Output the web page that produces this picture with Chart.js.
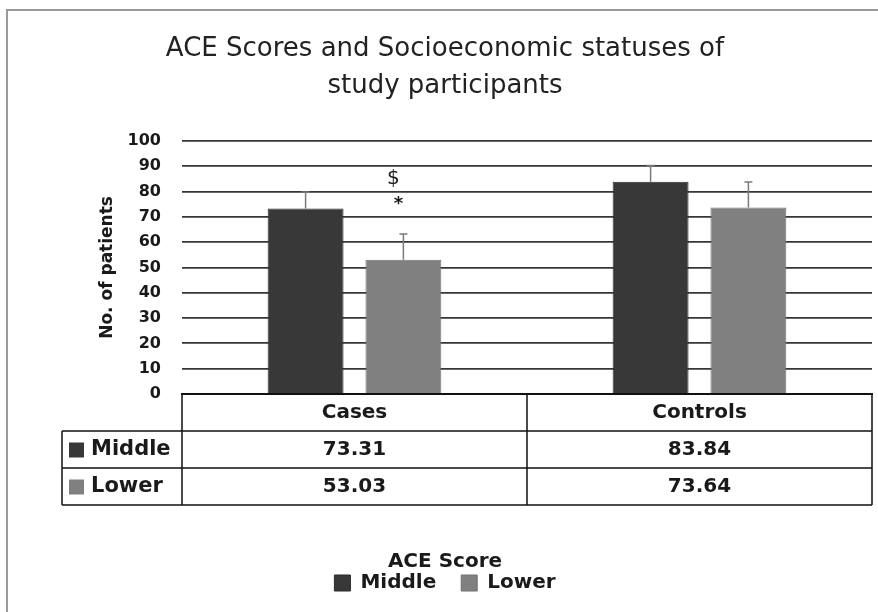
<!DOCTYPE html>
<html>
<head>
<meta charset="utf-8">
<title>ACE Scores and Socioeconomic statuses</title>
<script src="https://cdn.jsdelivr.net/npm/chart.js"></script>
<style>
  html, body { margin: 0; padding: 0; background: #fff; }
  #wrap { width: 878px; height: 612px; position: relative; }
</style>
</head>
<body>
<div id="wrap"><canvas id="aceChart"></canvas></div>

<script>
  // Données
  const categories = ['Cases', 'Controls'];
  const seriesNames = ['Middle', 'Lower'];
  const middleValues = [73.31, 83.84];
  const lowerValues = [53.03, 73.64];
  const middleErrors = [6.5, 6.4];
  const lowerErrors = [10.2, 10.1];
  const yTicks = [0, 10, 20, 30, 40, 50, 60, 70, 80, 90, 100];
  const marks = [{ series: 1, index: 0, text: '$', value: 85 }, { series: 1, index: 0, text: '*', value: 76 }];

  const colors = ['#383838', '#808080'];
  const textColor = '#1a1a1a';
  const fontMain = 'DejaVu Sans';

  // Cadre gris autour de la figure
  const framePlugin = {
    id: 'frame',
    beforeDraw(chart) {
      const ctx = chart.ctx;
      ctx.save();
      ctx.fillStyle = '#fff';
      ctx.fillRect(0, 0, chart.width, chart.height);
      ctx.strokeStyle = '#9a9a9a';
      ctx.lineWidth = 2;
      ctx.strokeRect(7, 10, chart.width + 20, chart.height + 20);
      ctx.restore();
    }
  };

  // Barres d'erreur (vers le haut) + annotations $ et *
  const errorBarPlugin = {
    id: 'errorBars',
    afterDatasetsDraw(chart) {
      const ctx = chart.ctx;
      const y = chart.scales.y;
      const errs = [middleErrors, lowerErrors];
      ctx.save();
      ctx.strokeStyle = '#7a7a7a';
      ctx.lineWidth = 1.5;
      chart.data.datasets.forEach((ds, i) => {
        const meta = chart.getDatasetMeta(i);
        meta.data.forEach((bar, j) => {
          const top = y.getPixelForValue(ds.data[j] + errs[i][j]);
          ctx.beginPath();
          ctx.moveTo(bar.x, bar.y);
          ctx.lineTo(bar.x, top);
          ctx.moveTo(bar.x - 4, top);
          ctx.lineTo(bar.x + 4, top);
          ctx.stroke();
        });
      });
      ctx.fillStyle = textColor;
      ctx.textAlign = 'center';
      ctx.textBaseline = 'middle';
      marks.forEach(m => {
        const bar = chart.getDatasetMeta(m.series).data[m.index];
        ctx.font = (m.text === '*' ? 'bold 18px ' : '20px ') + fontMain;
        ctx.fillText(m.text, bar.x - (m.text === '*' ? 5 : 10), y.getPixelForValue(m.value) + (m.text === '*' ? 3 : 0));
      });
      ctx.restore();
    }
  };

  // Tableau de données sous l'axe
  const tablePlugin = {
    id: 'dataTable',
    afterDraw(chart) {
      const ctx = chart.ctx;
      const area = chart.chartArea;
      const x = chart.scales.x;
      const rowH = 37;
      const top = area.bottom;
      const mid = (x.getPixelForValue(0) + x.getPixelForValue(1)) / 2;
      const labelLeft = 62;
      const rows = [middleValues, lowerValues];

      ctx.save();
      ctx.strokeStyle = '#111';
      ctx.lineWidth = 1.5;
      ctx.beginPath();
      [area.left, mid, area.right].forEach(px => {
        ctx.moveTo(px, top);
        ctx.lineTo(px, top + rowH * 3);
      });
      ctx.moveTo(labelLeft, top + rowH);
      ctx.lineTo(labelLeft, top + rowH * 3);
      for (let r = 1; r <= 3; r++) {
        ctx.moveTo(labelLeft, top + rowH * r);
        ctx.lineTo(area.right, top + rowH * r);
      }
      ctx.stroke();

      ctx.fillStyle = textColor;
      ctx.font = 'bold 20px ' + fontMain;
      ctx.textAlign = 'center';
      ctx.textBaseline = 'middle';
      categories.forEach((c, j) => {
        const cx = j === 0 ? (area.left + mid) / 2 : (mid + area.right) / 2;
        ctx.fillText(c, cx, top + rowH / 2);
        rows.forEach((vals, r) => {
          ctx.fillText(vals[j].toFixed(2), cx, top + rowH * (r + 1.5));
        });
      });

      ctx.textAlign = 'left';
      ctx.font = 'bold 21px ' + fontMain;
      seriesNames.forEach((name, r) => {
        const cy = top + rowH * (r + 1.5);
        ctx.fillStyle = colors[r];
        ctx.fillRect(69, cy - 7, 15, 15);
        ctx.fillStyle = textColor;
        ctx.fillText(name, 91, cy);
      });
      ctx.restore();
    }
  };

  const ctx = document.getElementById('aceChart').getContext('2d');
  new Chart(ctx, {
    type: 'bar',
    data: {
      labels: categories,
      datasets: [
        { label: seriesNames[0], data: middleValues, backgroundColor: colors[0], borderColor: '#2a2a2a', borderWidth: 1 },
        { label: seriesNames[1], data: lowerValues, backgroundColor: colors[1], borderColor: '#707070', borderWidth: 1 }
      ]
    },
    options: {
      responsive: true,
      maintainAspectRatio: false,
      animation: false,
      categoryPercentage: 0.567,
      barPercentage: 0.776,
      layout: { padding: { top: 31, left: 18, right: 6, bottom: 9 } },
      plugins: {
        tooltip: { enabled: false },
        title: {
          display: true,
          text: ['ACE Scores and Socioeconomic statuses of', 'study participants'],
          color: '#222',
          font: { family: fontMain, size: 26, weight: 'normal', lineHeight: 1.42 },
          padding: { top: 0, bottom: 36 }
        },
        legend: {
          position: 'bottom',
          title: {
            display: true,
            text: 'ACE Score',
            color: textColor,
            font: { family: fontMain, size: 20, weight: 'bold', lineHeight: 1 },
            padding: { top: 0, bottom: -24 }
          },
          labels: {
            color: textColor,
            font: { family: fontMain, size: 20, weight: 'bold' },
            boxWidth: 16,
            boxHeight: 16,
            padding: 25
          }
        }
      },
      scales: {
        x: {
          ticks: { display: false },
          grid: { display: false },
          border: { display: true, color: '#111', width: 2 },
          afterFit(scale) { scale.height = 158; }
        },
        y: {
          min: 0,
          max: 100,
          afterBuildTicks(scale) { scale.ticks = yTicks.map(v => ({ value: v })); },
          ticks: {
            color: textColor,
            font: { family: fontMain, size: 16, weight: 'bold' },
            padding: 21
          },
          grid: { color: '#363636', lineWidth: 1.8, drawTicks: false },
          border: { display: false },
          title: {
            display: true,
            text: 'No. of patients',
            color: textColor,
            font: { family: fontMain, size: 17, weight: 'bold' },
            padding: { top: 79, bottom: 0 }
          },
          afterFit(scale) { scale.width = 164; }
        }
      }
    },
    plugins: [framePlugin, errorBarPlugin, tablePlugin]
  });
</script>
</body>
</html>
